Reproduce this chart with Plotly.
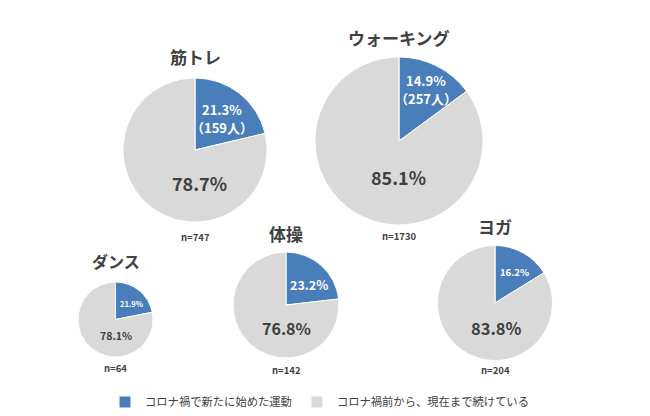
import plotly.graph_objects as go

W, H = 650, 416
categories = ["筋トレ", "ウォーキング", "ダンス", "体操", "ヨガ"]
new_pct = [21.3, 14.9, 21.9, 23.2, 16.2]
old_pct = [78.7, 85.1, 78.1, 76.8, 83.8]
new_people = [159, 257, None, None, None]
n_values = [747, 1730, 64, 142, 204]
legend_labels = ["コロナ禍で新たに始めた運動", "コロナ禍前から、現在まで続けている"]
colors = ["#4A7EBB", "#D9D9D9"]

# page offset compensation (browser body margin)
OX, OY = 8, 8

# layout geometry (pixels): center x, center y, radius
geo = [(195, 150, 72), (399, 141, 84), (115.5, 319.5, 37.5), (286, 305, 53), (495, 303, 57.5)]
title_y = [56, 38, 261, 233, 226]
n_y = [237, 236, 368, 370, 370]
blue_off = [(27, -41), (27, -60), (15.5, -16.5), (23, -21), (19, -31)]
people_off = [(27, -22), (27, -43)]
gray_off = [(4, 33), (-1, 36), (0.5, 15.5), (0, 23), (1, 25)]
blue_fs = [13, 13, 7.5, 12.5, 9.5]
gray_fs = [18, 18, 10.5, 16, 16.5]
title_fs = [17, 17, 16, 17, 17]

FONT = "Noto Sans CJK JP"
fig = go.Figure()
ann = []


def A(x, y, text, size, color):
    return dict(x=(x - OX) / W, y=1 - (y - OY) / H, xref="paper", yref="paper", text=text,
                showarrow=False, xanchor="center", yanchor="middle",
                font=dict(size=size, color=color, family=FONT))


for i, cat in enumerate(categories):
    cx, cy, r = geo[i]
    cx -= OX
    cy -= OY
    fig.add_trace(go.Pie(
        labels=legend_labels,
        values=[new_pct[i], old_pct[i]],
        marker=dict(colors=colors, line=dict(color="white", width=1)),
        sort=False, direction="clockwise", rotation=0,
        textinfo="none", hoverinfo="label+percent",
        domain=dict(x=[(cx - r) / W, (cx + r) / W], y=[1 - (cy + r) / H, 1 - (cy - r) / H]),
        showlegend=(i == 0),
    ))
    cx += OX
    cy += OY
    ann.append(A(cx, title_y[i], f"<b>{cat}</b>", title_fs[i], "#404040"))
    ann.append(A(cx, n_y[i], f"<b>n={n_values[i]}</b>", 9.5, "#404040"))
    bx, by = blue_off[i]
    ann.append(A(cx + bx, cy + by, f"<b>{new_pct[i]}%</b>", blue_fs[i], "white"))
    if new_people[i] is not None:
        px, py = people_off[i]
        ann.append(A(cx + px, cy + py, f"<b>（{new_people[i]}人）</b>", blue_fs[i], "white"))
    gx, gy = gray_off[i]
    ann.append(A(cx + gx, cy + gy, f"<b>{old_pct[i]}%</b>", gray_fs[i], "#404040"))

fig.update_layout(
    width=W, height=H, margin=dict(l=0, r=0, t=0, b=0),
    paper_bgcolor="white", plot_bgcolor="white",
    annotations=ann,
    legend=dict(orientation="h", x=(105 - OX) / W, y=1 - (402 - OY) / H, yanchor="middle",
                xanchor="left", font=dict(size=11.3, color="#404040", family=FONT),
                traceorder="normal"),
)
fig.write_html("out.html")
